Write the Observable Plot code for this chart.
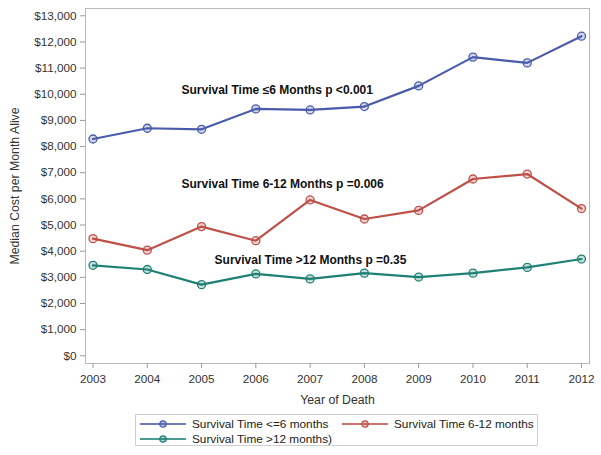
<!DOCTYPE html>
<html>
<head>
<meta charset="utf-8">
<script src="https://cdn.jsdelivr.net/npm/d3@7"></script>
<script src="https://cdn.jsdelivr.net/npm/@observablehq/plot@0.6"></script>
<style>
  body { margin: 0; background: #fff; font-family: "Liberation Sans", Arial, sans-serif; }
  #wrap { position: relative; width: 601px; height: 455px; }
  #legend { position: absolute; left: 135px; top: 414px; width: 403px; height: 32px;
    border: 1px solid #d0d0d0; box-sizing: border-box; font-size: 11.8px; color: #222; }
  .item { position: absolute; display: flex; align-items: center; height: 15px; white-space: nowrap; }
  .item svg { margin-right: 6px; flex: none; }
</style>
</head>
<body>
<div id="wrap"><div id="chart"></div><div id="legend"></div></div>
<script>
const years = [2003, 2004, 2005, 2006, 2007, 2008, 2009, 2010, 2011, 2012];
const le6 = [8290, 8700, 8660, 9440, 9400, 9530, 10320, 11420, 11200, 12220];
const m6to12 = [4480, 4040, 4940, 4400, 5960, 5230, 5560, 6760, 6950, 5630];
const gt12 = [3460, 3300, 2720, 3130, 2940, 3160, 3010, 3160, 3380, 3700];
const seriesNames = ["Survival Time <=6 months", "Survival Time 6-12 months", "Survival Time >12 months)"];
const seriesColors = ["#4a5bab", "#bf5048", "#1f8074"];
const yTicks = [0, 1000, 2000, 3000, 4000, 5000, 6000, 7000, 8000, 9000, 10000, 11000, 12000, 13000];
const annText = ["Survival Time \u22646 Months p <0.001", "Survival Time 6-12 Months p =0.006", "Survival Time >12 Months p =0.35"];
const annX = [2004.63, 2004.63, 2005.24];
const annY = [10140, 6570, 3640];
const xLabel = "Year of Death";
const yLabel = "Median Cost per Month Alive";

const seriesValues = [le6, m6to12, gt12];
const data = seriesValues.flatMap((vals, s) => vals.map((v, i) => ({year: years[i], value: v, series: seriesNames[s]})));
const ann = annText.map((t, i) => ({text: t, x: annX[i], y: annY[i]}));

const chart = Plot.plot({
  width: 601,
  height: 410,
  marginLeft: 85,
  marginRight: 12,
  marginTop: 8,
  marginBottom: 47,
  style: {fontFamily: "'Liberation Sans', Arial, sans-serif", fontSize: "11.7px", color: "#333", background: "#fff"},
  x: {domain: [2003, 2012], insetLeft: 7.5, insetRight: 8},
  y: {domain: [0, 13000], insetTop: 7.3, insetBottom: 7.7},
  color: {domain: seriesNames, range: seriesColors},
  marks: [
    Plot.frame({stroke: "#b8b8b8"}),
    Plot.axisX({ticks: years, tickFormat: d => String(d), tickSize: 5, tickPadding: 6, label: null, stroke: "#999", fill: "#333"}),
    Plot.axisY({ticks: yTicks, tickFormat: d => "$" + d3.format(",")(d), tickSize: 5, tickPadding: 4, label: null, stroke: "#999", fill: "#333"}),
    Plot.line(data, {x: "year", y: "value", z: "series", stroke: "series", strokeWidth: 2.2}),
    Plot.dot(data, {x: "year", y: "value", stroke: "series", fill: "series", fillOpacity: 0.25, r: 4, strokeWidth: 1.3}),
    Plot.text(ann, {x: "x", y: "y", text: "text", textAnchor: "start", fontWeight: "bold", fontSize: 12, fill: "#111"}),
    Plot.text([xLabel], {frameAnchor: "bottom", dy: 37, lineAnchor: "middle", textAnchor: "middle", fontSize: 12.3, fill: "#333"}),
    Plot.text([yLabel], {frameAnchor: "left", dx: -70.5, rotate: -90, textAnchor: "middle", lineAnchor: "middle", fontSize: 12.3, fill: "#333"})
  ]
});
document.getElementById("chart").appendChild(chart);

const legend = document.getElementById("legend");
const pos = [[4, 0], [206, 0], [4, 15]];
seriesNames.forEach((name, i) => {
  const d = document.createElement("div");
  d.className = "item";
  d.style.left = pos[i][0] + "px";
  d.style.top = (pos[i][1] + 1) + "px";
  const c = seriesColors[i];
  d.innerHTML = `<svg width="46" height="10"><line x1="0" x2="46" y1="5" y2="5" stroke="${c}" stroke-width="2.2" stroke-opacity="0.8"/><circle cx="23" cy="5" r="3.2" stroke="${c}" fill="${c}" fill-opacity="0.4" stroke-width="1.2"/></svg><span>${name.replace(/</g, "&lt;").replace(/>/g, "&gt;")}</span>`;
  legend.appendChild(d);
});
</script>
</body>
</html>
